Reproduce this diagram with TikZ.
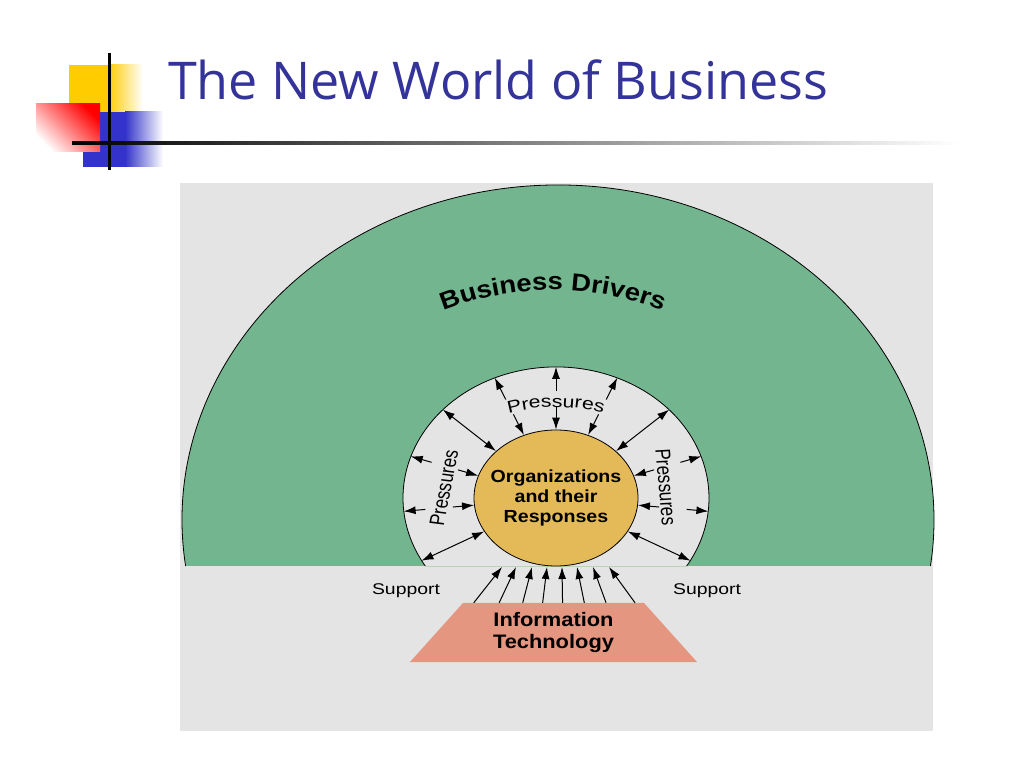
\documentclass[tikz,border=0pt]{standalone}
\usepackage{fontspec}
\usepackage{tikz}
\usetikzlibrary{shapes.geometric, arrows.meta, positioning, calc, decorations.text}
\newfontfamily\titlefont{Open Sans}
\newfontfamily\diafont[FakeStretch=1.25]{Liberation Sans}
\newfontfamily\boldfont[FakeStretch=1.12]{Liberation Sans}
\newfontfamily\sidefont{Liberation Sans}
\definecolor{panelgray}{HTML}{E4E4E4}
\definecolor{drivergreen}{HTML}{73B58F}
\definecolor{orgorange}{HTML}{E4B957}
\definecolor{itsalmon}{HTML}{E49680}
\definecolor{titleblue}{HTML}{333399}
\definecolor{logoyellow}{HTML}{FFCC00}
\definecolor{logoblue}{HTML}{3333CC}
\tikzstyle{orgnode} = [ellipse, draw = black, line width = 0.8pt, fill = orgorange, minimum width = 164pt,
minimum height = 136pt, inner xsep = -14pt, inner ysep = 0pt, align = center, font = \boldfont\bfseries\fontsize{17.5}{20}\selectfont]
\tikzstyle{ringnode} = [ellipse, minimum width = 306pt, minimum height = 262pt, inner sep = 0pt]
\tikzstyle{itnode} = [trapezium, trapezium left angle = 51.5, trapezium right angle = 51.5, trapezium stretches = true,
minimum width = 287pt, minimum height = 59pt, fill = itsalmon, align = center, font = \boldfont\bfseries\fontsize{19.5}{22}\selectfont]
\tikzstyle{supporttext} = [font = \diafont\fontsize{15.5}{18}\selectfont]
\tikzstyle{sidetext} = [font = \sidefont\fontsize{17}{20}\selectfont, xscale = 1.25]
\tikzstyle{arrow} = [line width = 1pt, ->, >={Latex[length=12pt, width=8pt]}]
\tikzstyle{twoway} = [arrow, <->]
\begin{document}
\begin{tikzpicture}[x = 1pt, y = 1pt]
\useasboundingbox (0,0) rectangle (1024,768);
\fill[white] (0,0) rectangle (1024,768);
% logo
\fill[logoyellow] (69,656) rectangle (108,703);
\shade[left color = logoyellow, right color = white] (108,656) rectangle (143,703);
\fill[logoblue] (83,601) rectangle (125,656);
\shade[left color = logoblue, right color = white] (125,601) rectangle (163,656);
\shade[top color = red, bottom color = white, shading angle = -45] (36,616) rectangle (100,664);
\draw[line width = 3pt] (109,598) -- (109,715);
\shade[left color = black, right color = white] (72,623.2) rectangle (960,626.8);
\node (title) [anchor = base west, inner sep = 0pt, text = titleblue, font = \titlefont\fontsize{52}{62}\selectfont] at (168,668) {The New World of Business};

% panel and business drivers
\fill[panelgray] (180,37) rectangle (933,585);
\fill[drivergreen] (185.6,202) arc[start angle = 187.9, end angle = -7.9, x radius = 376, y radius = 335] -- (686.7,202)
  arc[start angle = -31.3, end angle = 211.3, x radius = 153, y radius = 131] -- cycle;
\draw[line width = 0.8pt] (185.6,202) arc[start angle = 187.9, end angle = -7.9, x radius = 376, y radius = 335];
\draw[line width = 0.8pt] (686.7,202) arc[start angle = -31.3, end angle = 211.3, x radius = 153, y radius = 131];
\draw[green!25!gray!45, line width = 0.8pt] (425.3,202) -- (686.7,202);
\path[decorate, decoration = {text along path, text align = center,
  text = {|\boldfont\bfseries\fontsize{24.5}{28}\selectfont|Business Drivers}}] (403,437.8) arc[start angle = 120, end angle = 60, radius = 300];

% organizations and pressures
\node (ring) [ringnode] at (556,270) {};
\node (org) [orgnode] at (556,270) {Organizations\\and their\\Responses};
\path[decorate, decoration = {text along path, text align = center,
  text = {|\diafont\fontsize{17}{20}\selectfont|Pressures}}] (494.4,350.1) arc[start angle = 110, end angle = 70, radius = 180];
\node (presl) [sidetext, rotate = 81] at (444,280) {Pressures};
\node (presr) [sidetext, rotate = -86] at (666,281) {Pressures};

\draw[twoway] (org.142) -- (ring.142);
\draw[twoway] (org.38) -- (ring.38);
\draw[twoway] (org.205) -- (ring.205);
\draw[twoway] (org.335) -- (ring.335);
\draw[arrow] ($(org.117)!0.62!(ring.117)$) -- (ring.117);
\draw[arrow] ($(org.117)!0.36!(ring.117)$) -- (org.117);
\draw[arrow] ($(org.90)!0.62!(ring.90)$) -- (ring.90);
\draw[arrow] ($(org.90)!0.36!(ring.90)$) -- (org.90);
\draw[arrow] ($(org.63)!0.62!(ring.63)$) -- (ring.63);
\draw[arrow] ($(org.63)!0.36!(ring.63)$) -- (org.63);
\draw[arrow] ($(org.164)!0.69!(ring.164)$) -- (ring.164);
\draw[arrow] ($(org.164)!0.30!(ring.164)$) -- (org.164);
\draw[arrow] ($(org.185)!0.69!(ring.185)$) -- (ring.185);
\draw[arrow] ($(org.185)!0.30!(ring.185)$) -- (org.185);
\draw[arrow] ($(org.16)!0.69!(ring.16)$) -- (ring.16);
\draw[arrow] ($(org.16)!0.30!(ring.16)$) -- (org.16);
\draw[arrow] ($(org.355)!0.69!(ring.355)$) -- (ring.355);
\draw[arrow] ($(org.355)!0.30!(ring.355)$) -- (org.355);

% information technology
\node (it) [itnode] at (553.5,135.5) {Information\\Technology};
\node (supl) [supporttext] at (406,177) {Support};
\node (supr) [supporttext] at (707,177) {Support};
\coordinate (t1) at (502,201);
\coordinate (t2) at (516,201);
\coordinate (t3) at (532,201);
\coordinate (t4) at (547,201);
\coordinate (t5) at (562,201);
\coordinate (t6) at (577,201);
\coordinate (t7) at (593,201);
\coordinate (t8) at (609,201);
\draw[arrow] ($(it.top left corner)!0.06!(it.top right corner)$) -- (t1);
\draw[arrow] ($(it.top left corner)!0.20!(it.top right corner)$) -- (t2);
\draw[arrow] ($(it.top left corner)!0.33!(it.top right corner)$) -- (t3);
\draw[arrow] ($(it.top left corner)!0.44!(it.top right corner)$) -- (t4);
\draw[arrow] ($(it.top left corner)!0.55!(it.top right corner)$) -- (t5);
\draw[arrow] ($(it.top left corner)!0.67!(it.top right corner)$) -- (t6);
\draw[arrow] ($(it.top left corner)!0.79!(it.top right corner)$) -- (t7);
\draw[arrow] ($(it.top left corner)!0.95!(it.top right corner)$) -- (t8);
\end{tikzpicture}
\end{document}
